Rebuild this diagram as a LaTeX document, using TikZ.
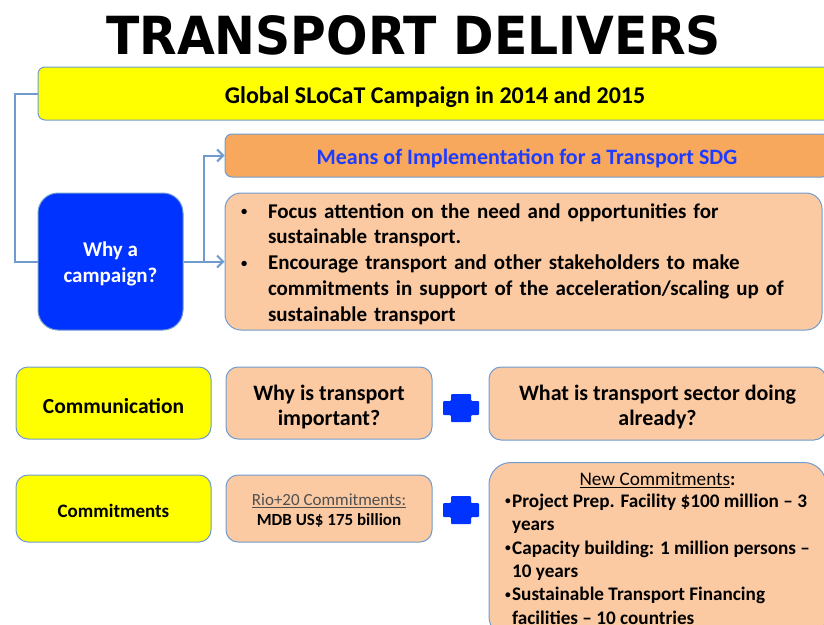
\documentclass[tikz,border=0pt]{standalone}
\usepackage{fontspec}
\setmainfont{Carlito}
\newfontfamily\titlefont{DejaVu Sans}
\usetikzlibrary{arrows.meta}
\definecolor{slyellow}{RGB}{255,255,0}
\definecolor{slpeach}{RGB}{251,202,162}
\definecolor{slorange}{RGB}{248,168,92}
\definecolor{slblue}{RGB}{0,51,255}
\definecolor{sltext}{RGB}{30,60,255}
\definecolor{slline}{RGB}{112,155,206}
\definecolor{slgrey}{RGB}{80,80,80}
\newcommand{\fs}[2]{\fontsize{#1}{#2}\selectfont}
\newcommand{\dn}[2]{\raisebox{#1}[\height][\depth]{#2}}
\newcommand{\ml}[1]{\begin{tabular}{@{}c@{}}#1\end{tabular}}
\newcommand{\slbullet}{\raisebox{0.12em}{\scalebox{0.6}{\textbullet}}}

\begin{document}
\begin{tikzpicture}[x=1pt,y=-1pt,
	box/.style={draw=slline,line width=1pt,rounded corners=#1,inner sep=0pt,align=center},
	box/.default=7pt,
	link/.style={slline,line width=2pt},
	tip/.style={-{Straight Barb[length=6pt,width=12pt]}}]
	\useasboundingbox (0,0) rectangle (824,624);
	\clip (0,0) rectangle (824,624);
	\node[font=\titlefont\fs{52.5}{55}\bfseries] (title) at (413.5,35) {\scalebox{0.93}[1]{TRANSPORT DELIVERS}};
	\node[box,fill=slyellow,minimum width=794pt,minimum height=53pt,font=\fs{24}{28}\bfseries] (global) at (435,93.5) {\dn{-3.5pt}{Global SLoCaT Campaign in 2014 and 2015}};
	\node[box,fill=slorange,minimum width=604pt,minimum height=43pt,text=sltext,font=\fs{22}{25}\bfseries] (means) at (527,155.5) {\dn{-2.5pt}{Means of Implementation for a Transport SDG}};
	\node[box=16pt,fill=slpeach,minimum width=597pt,minimum height=137pt,text width=565pt,align=left,font=\fs{21}{25.7}\bfseries] (focus) at (523.5,261.5) {\noindent\dn{-3pt}{\begin{tabular}{@{}p{27pt}@{}l@{}}
		\slbullet & Focus attention on the need and opportunities for\\
		& sustainable transport.\\
		\slbullet & Encourage transport and other stakeholders to make\\
		& commitments in support of the acceleration/scaling up of\\
		& sustainable transport
		\end{tabular}}};
	\node[box=20pt,fill=slblue,text=white,minimum width=145pt,minimum height=137pt,font=\fs{21}{26}\bfseries] (why) at (110.5,261.5) {\dn{-3pt}{\ml{Why a\\campaign?}}};
	\node[box=12pt,fill=slyellow,minimum width=195pt,minimum height=72pt,font=\fs{21.5}{25}\bfseries] (comm) at (113.5,403) {\dn{-3pt}{Communication}};
	\node[box=12pt,fill=slpeach,minimum width=206pt,minimum height=72pt,font=\fs{22}{25}\bfseries] (important) at (329,403) {\dn{-4.5pt}{\ml{Why is transport\\important?}}};
	\node[box=12pt,fill=slpeach,minimum width=337pt,minimum height=73pt,font=\fs{22}{25}\bfseries] (doing) at (657.5,403.5) {\dn{-4.5pt}{\ml{What is transport sector doing\\already?}}};
	\node[box=12pt,fill=slyellow,minimum width=195pt,minimum height=67pt,font=\fs{19}{22}\bfseries] (commit) at (113.5,508.5) {\dn{-2pt}{Commitments}};
	\node[box=12pt,fill=slpeach,minimum width=206pt,minimum height=67pt,font=\fs{17}{19.5}\bfseries] (rio) at (329,508.5) {\dn{-3pt}{\ml{{\mdseries\color{slgrey}\underline{Rio+20 Commitments:}}\\MDB US\$ 175 billion}}};
	\node[box=22pt,fill=slpeach,anchor=north,minimum width=337pt,inner ysep=7pt,font=\fs{19.2}{23.4}\bfseries] (newc) at (657.5,462) {\begin{tabular}{@{}p{7pt}@{}l@{}}
		\multicolumn{2}{c}{{\mdseries\underline{New Commitments}}:}\\[-2pt]
		\slbullet & Project Prep. Facility \$100 million -- 3\\
		& years\\
		\slbullet & Capacity building: 1 million persons --\\
		& 10 years\\
		\slbullet & Sustainable Transport Financing\\
		& facilities -- 10 countries
		\end{tabular}};
	\foreach \y in {408,510}
		\fill[slblue,rounded corners=1pt] (451,\y-14) -- (471,\y-14) -- (471,\y-7) -- (479,\y-7) -- (479,\y+7) -- (471,\y+7) -- (471,\y+14) -- (451,\y+14) -- (451,\y+7) -- (443,\y+7) -- (443,\y-7) -- (451,\y-7) -- cycle;
	\draw[link] (global.west) -- ++(-23,0) |- (why.west);
	\draw[link,tip] (why.east) -- (focus.west);
	\draw[link,tip] (why.east) -- ++(20,0) |- (means.west);
\end{tikzpicture}
\end{document}
